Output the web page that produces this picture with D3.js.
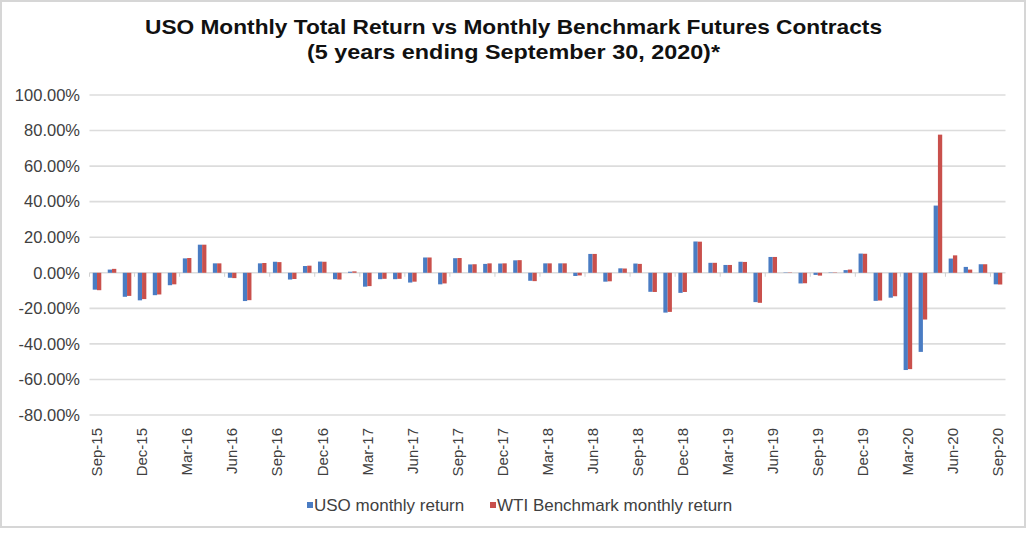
<!DOCTYPE html>
<html>
<head>
<meta charset="utf-8">
<script src="https://cdn.jsdelivr.net/npm/d3@7/dist/d3.min.js"></script>
<style>
  html, body { margin: 0; padding: 0; background: #fff; }
  svg { display: block; font-family: "Liberation Sans", Arial, Helvetica, sans-serif; }
</style>
</head>
<body>
<svg id="chart" width="1027" height="535"></svg>
<script>
const titleLines = [
  "USO Monthly Total Return vs Monthly Benchmark Futures Contracts",
  "(5 years ending September 30, 2020)*"
];
const months = [
  "Sep-15","Oct-15","Nov-15","Dec-15","Jan-16","Feb-16","Mar-16","Apr-16","May-16","Jun-16","Jul-16","Aug-16",
  "Sep-16","Oct-16","Nov-16","Dec-16","Jan-17","Feb-17","Mar-17","Apr-17","May-17","Jun-17","Jul-17","Aug-17",
  "Sep-17","Oct-17","Nov-17","Dec-17","Jan-18","Feb-18","Mar-18","Apr-18","May-18","Jun-18","Jul-18","Aug-18",
  "Sep-18","Oct-18","Nov-18","Dec-18","Jan-19","Feb-19","Mar-19","Apr-19","May-19","Jun-19","Jul-19","Aug-19",
  "Sep-19","Oct-19","Nov-19","Dec-19","Jan-20","Feb-20","Mar-20","Apr-20","May-20","Jun-20","Jul-20","Aug-20",
  "Sep-20"
];
const tickLabels = ["Sep-15","Dec-15","Mar-16","Jun-16","Sep-16","Dec-16","Mar-17","Jun-17","Sep-17","Dec-17",
  "Mar-18","Jun-18","Sep-18","Dec-18","Mar-19","Jun-19","Sep-19","Dec-19","Mar-20","Jun-20","Sep-20"];
const seriesNames = ["USO monthly return", "WTI Benchmark monthly return"];
const usoReturn = [
  -9.5, 1.8, -13.5, -15.5, -12.6, -7.0, 8.1, 15.8, 5.3, -2.8, -15.9, 5.3,
  6.2, -3.8, 3.8, 6.3, -3.6, 0.6, -7.8, -3.6, -3.6, -5.5, 8.6, -6.5,
  8.2, 4.7, 5.0, 5.2, 7.0, -4.5, 5.3, 5.3, -1.8, 10.6, -5.0, 2.5,
  5.2, -10.7, -22.4, -11.3, 17.6, 5.6, 4.4, 6.2, -16.5, 8.9, 0.2, -6.0,
  -1.2, 0.2, 1.5, 10.8, -15.8, -14.0, -54.7, -44.5, 37.8, 8.0, 3.3, 4.8,
  -6.5
];
const wtiReturn = [
  -9.8, 2.2, -13.0, -14.8, -12.2, -6.5, 8.3, 15.8, 5.3, -3.0, -15.4, 5.5,
  6.0, -3.5, 4.0, 6.2, -3.8, 0.8, -7.5, -3.4, -3.4, -5.0, 8.6, -6.0,
  8.3, 4.8, 5.3, 5.3, 7.1, -4.7, 5.3, 5.3, -1.5, 10.6, -4.8, 2.4,
  5.0, -10.8, -22.0, -10.8, 17.5, 5.6, 4.4, 6.1, -16.9, 8.9, 0.2, -5.9,
  -1.6, 0.2, 1.8, 10.7, -15.6, -13.2, -54.2, -26.3, 77.7, 9.8, 1.8, 4.8,
  -6.6
];
const yTicks = [100, 80, 60, 40, 20, 0, -20, -40, -60, -80];
const colors = ["#4a7cc3", "#c9504c"];

const rows = months.map((m, i) => ({ month: m, values: [usoReturn[i], wtiReturn[i]] }));

const svg = d3.select("#chart");

// outer frame
svg.append("rect").attr("x", 1).attr("y", 1).attr("width", 1024).attr("height", 526)
  .attr("fill", "#fff").attr("stroke", "#d6d6d6").attr("stroke-width", 2);

const plotLeft = 89.5, plotRight = 1005.5, plotTop = 95, plotBottom = 415;

const y = d3.scaleLinear().domain([-80, 100]).range([plotBottom, plotTop]);
const x0 = d3.scaleBand().domain(months).range([plotLeft, plotRight]).paddingInner(0.43).paddingOuter(0.215);
const x1 = d3.scaleBand().domain([0, 1]).range([0, x0.bandwidth()]);

// gridlines
svg.append("g").selectAll("line").data(yTicks).join("line")
  .attr("x1", plotLeft).attr("x2", plotRight)
  .attr("y1", d => y(d)).attr("y2", d => y(d))
  .attr("stroke", "#dcdcdc").attr("stroke-width", 1.6);

// y axis labels
const yAxis = d3.axisLeft(y).tickValues(yTicks).tickSize(0).tickPadding(0)
  .tickFormat(d => d.toFixed(2) + "%");
const gy = svg.append("g").attr("transform", `translate(80,0)`).call(yAxis);
gy.select(".domain").remove();
gy.selectAll("text").attr("font-size", 16.5).attr("fill", "#404040")
  .attr("font-family", "Liberation Sans, Arial, sans-serif");

// small tick marks on zero line at labelled category boundaries
const step = x0.step();
svg.append("g").selectAll("line").data(tickLabels).join("line")
  .attr("x1", d => x0(d) - step * x0.paddingInner() / 2)
  .attr("x2", d => x0(d) - step * x0.paddingInner() / 2)
  .attr("y1", y(0)).attr("y2", y(0) + 4)
  .attr("stroke", "#d0d0d0").attr("stroke-width", 1);

// bars
const groups = svg.append("g").selectAll("g").data(rows).join("g")
  .attr("transform", d => `translate(${x0(d.month)},0)`);
groups.selectAll("rect").data(d => d.values.map((v, k) => ({ v, k }))).join("rect")
  .attr("x", d => x1(d.k))
  .attr("width", x1.bandwidth())
  .attr("y", d => y(Math.max(0, d.v)))
  .attr("height", d => Math.abs(y(d.v) - y(0)))
  .attr("fill", d => colors[d.k]);

// x axis labels
const xAxis = d3.axisBottom(x0).tickValues(tickLabels).tickSize(0).tickPadding(0);
const gx = svg.append("g").attr("transform", `translate(0,${plotBottom})`).call(xAxis);
gx.select(".domain").remove();
gx.selectAll("text")
  .attr("font-size", 15).attr("fill", "#404040")
  .attr("font-family", "Liberation Sans, Arial, sans-serif")
  .attr("transform", "rotate(-90)")
  .attr("text-anchor", "end")
  .attr("x", -13).attr("y", 0).attr("dy", "0.35em");

// title
const titleWidths = [737, 413];
svg.append("g").selectAll("text").data(titleLines).join("text")
  .attr("x", 513.5).attr("y", (d, i) => 34 + i * 25)
  .attr("text-anchor", "middle")
  .attr("font-size", 21).attr("font-weight", "bold").attr("fill", "#111")
  .attr("textLength", (d, i) => titleWidths[i])
  .attr("lengthAdjust", "spacingAndGlyphs")
  .text(d => d);

// legend
const legendX = [307, 490];
const lg = svg.append("g").selectAll("g").data(seriesNames).join("g")
  .attr("transform", (d, i) => `translate(${legendX[i]},505)`);
lg.append("rect").attr("x", 0).attr("y", -3).attr("width", 6).attr("height", 6)
  .attr("fill", (d, i) => colors[i]);
lg.append("text").attr("x", 7).attr("y", 0).attr("dy", "0.35em")
  .attr("font-size", 17).attr("fill", "#404040").text(d => d);
</script>
</body>
</html>
